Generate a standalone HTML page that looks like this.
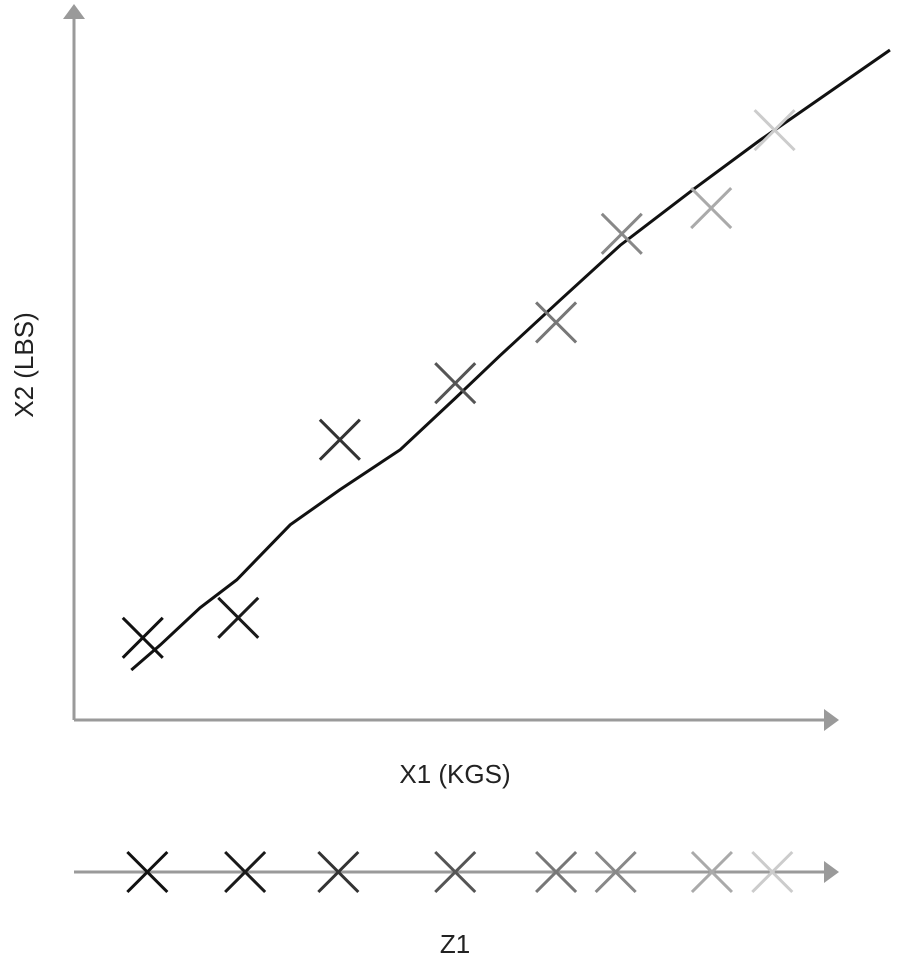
<!DOCTYPE html>
<html><head><meta charset="utf-8"><style>
html,body{margin:0;padding:0;background:#fff;}
svg{display:block;font-family:"Liberation Sans",sans-serif;}
</style></head><body>
<svg id="chart" width="900" height="971" viewBox="0 0 900 971">
  <g>
    <line x1="74" y1="16" x2="74" y2="720" stroke="#9a9a9a" stroke-width="3"/>
    <polygon points="74,4 63,19 85,19" fill="#9a9a9a"/>
  </g>
  <g>
    <line x1="74" y1="720" x2="826" y2="720" stroke="#9a9a9a" stroke-width="3"/>
    <polygon points="839,720 824,709 824,731" fill="#9a9a9a"/>
  </g>
  <g>
    <line x1="74" y1="872" x2="826" y2="872" stroke="#9a9a9a" stroke-width="3"/>
    <polygon points="839,872 824,861 824,883" fill="#9a9a9a"/>
  </g>
  <text x="33" y="365" font-size="26" fill="#222" text-anchor="middle" transform="rotate(-90 33 365)">X2 (LBS)</text>
  <text x="455" y="783" font-size="26" fill="#222" text-anchor="middle">X1 (KGS)</text>
  <text x="455" y="953" font-size="26" fill="#222" text-anchor="middle">Z1</text>
  <g id="marks"></g>
</svg>
<script>
const pointX = [9.0, 21.5, 34.8, 49.9, 63.1, 71.7, 83.4, 91.7];
const pointY = [11.5, 14.3, 39.2, 47.1, 55.6, 68.0, 71.6, 82.5];
const stripX = [9.6, 22.4, 34.6, 49.9, 63.1, 70.9, 83.5, 91.4];
const lineX = [7.5, 11.3, 16.5, 21.3, 28.3, 34.8, 42.7, 49.9, 55.8, 63.6, 71.5, 81.3, 89.8, 106.8];
const lineY = [7.0, 10.5, 15.7, 19.6, 27.3, 32.2, 37.8, 45.0, 51.0, 58.7, 66.4, 74.4, 81.1, 93.7];
const shades = ["#111", "#1a1a1a", "#333", "#555", "#777", "#888", "#aaa", "#ccc"];

const xs = v => 74 + v * 7.64;
const ys = v => 720 - v * 7.15;
const NS = "http://www.w3.org/2000/svg";
const g = document.getElementById("marks");

const path = document.createElementNS(NS, "polyline");


path.setAttribute("points", lineX.map((x, i) => xs(x) + "," + ys(lineY[i])).join(" "));
path.setAttribute("fill", "none");
path.setAttribute("stroke", "#111");
path.setAttribute("stroke-width", "3");
g.appendChild(path);

function cross(cx, cy, color, name) {
  const p = document.createElementNS(NS, "path");
  
  
  const r = 20;
  p.setAttribute("d", `M${cx-r},${cy-r}L${cx+r},${cy+r}M${cx-r},${cy+r}L${cx+r},${cy-r}`);
  p.setAttribute("stroke", color);
  p.setAttribute("stroke-width", "3");
  p.setAttribute("fill", "none");
  g.appendChild(p);
}
pointX.forEach((x, i) => cross(xs(x), ys(pointY[i]), shades[i], "scatter-point"));
stripX.forEach((x, i) => cross(xs(x), 872, shades[i], "z-point"));
</script>
</body></html>
